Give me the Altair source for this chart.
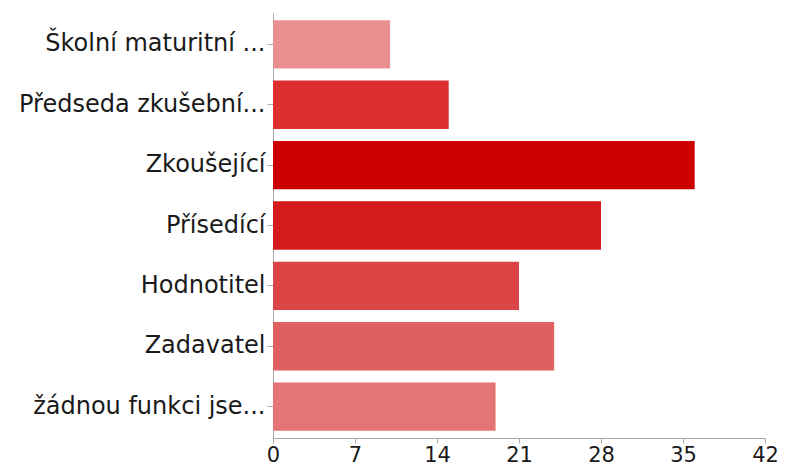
import altair as alt
import pandas as pd

categories = ["Školní maturitní ...", "Předseda zkušební...", "Zkoušející", "Přísedící",
              "Hodnotitel", "Zadavatel", "žádnou funkci jse..."]
values = [10, 15, 36, 28, 21, 24, 19]
colors = ["#EA8F8F", "#DC2F30", "#CC0000", "#D41A1A", "#DC4546", "#E06060", "#E57474"]
x_ticks = [0, 7, 14, 21, 28, 35, 42]

df = pd.DataFrame({"cat": categories, "val": values})

FONT = "DejaVu Sans"

chart = alt.Chart(df).mark_bar().encode(
    x=alt.X("val:Q", scale=alt.Scale(domain=[0, 42], nice=False),
            axis=alt.Axis(values=x_ticks, title=None, grid=False, labelFontSize=21,
                          labelFont=FONT, labelColor="#1a1a1a", domainColor="#aaaaaa",
                          tickColor="#aaaaaa", tickSize=5, labelPadding=1, labelFlush=False)),
    y=alt.Y("cat:N", sort=categories,
            scale=alt.Scale(paddingInner=0.2, paddingOuter=0.12),
            axis=alt.Axis(title=None, labelFontSize=24, labelFont=FONT, labelColor="#1a1a1a",
                          domainColor="#aaaaaa", tickColor="#aaaaaa", tickSize=6,
                          labelPadding=2, labelLimit=400)),
    color=alt.Color("cat:N", scale=alt.Scale(domain=categories, range=colors), legend=None),
).properties(
    width=492, height=425,
    autosize=alt.AutoSizeParams(type="none"),
    padding={"left": 265, "top": 5, "right": 16, "bottom": 28},
).configure_view(stroke=None)

chart.save("out.html", embed_options={"renderer": "svg", "actions": False})
